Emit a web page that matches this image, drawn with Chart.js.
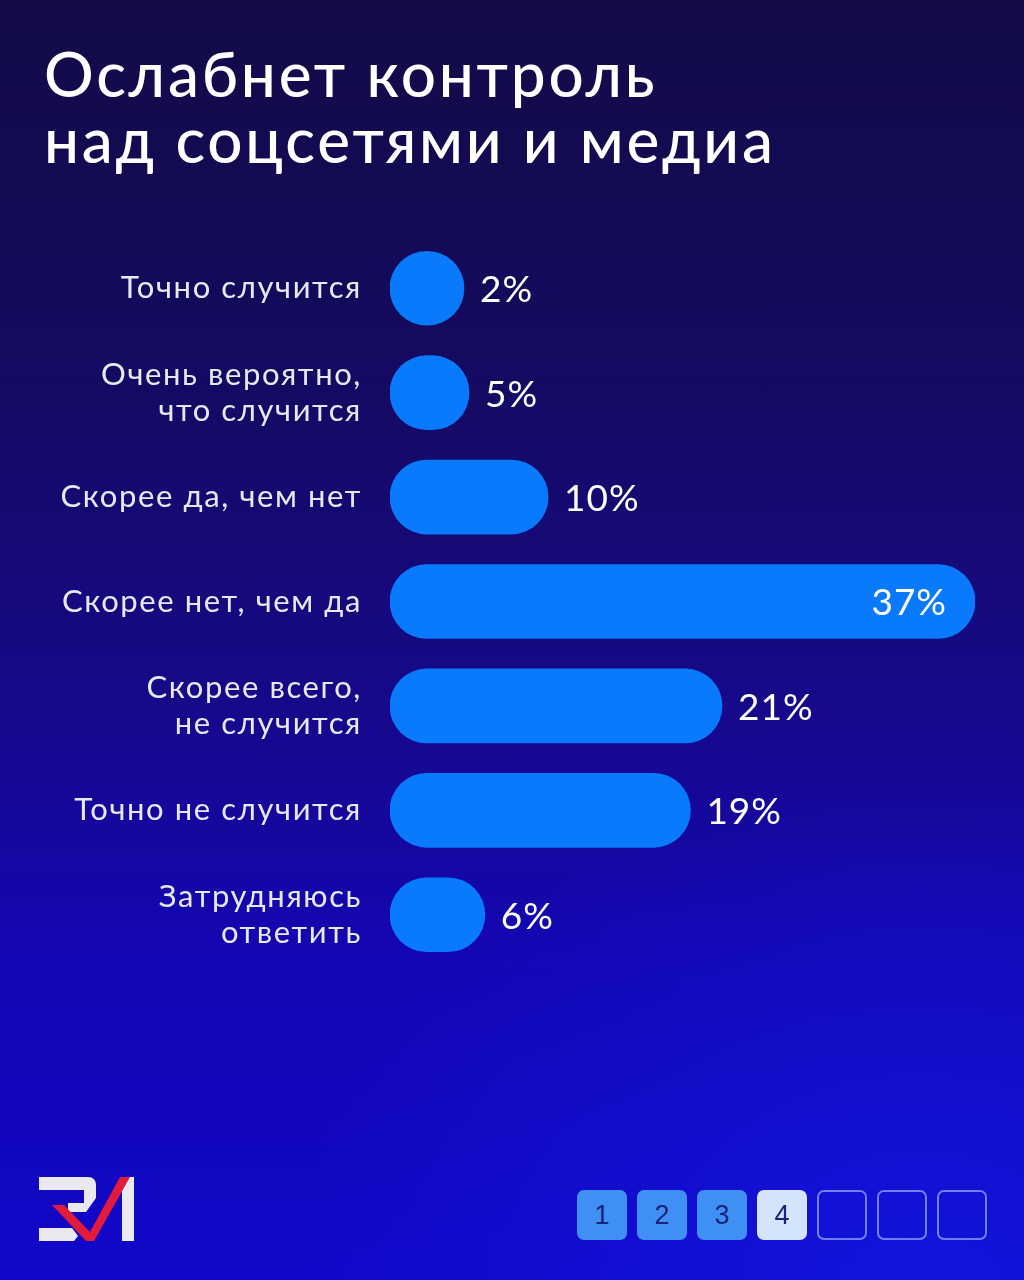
<!DOCTYPE html>
<html>
<head>
<meta charset="utf-8">
<script src="https://cdn.jsdelivr.net/npm/chart.js@4.4.1/dist/chart.umd.min.js"></script>
<style>
  html, body { margin: 0; padding: 0; }
  body {
    width: 1024px; height: 1280px; overflow: hidden; position: relative;
    background:
      radial-gradient(ellipse 900px 700px at 90% 100%, rgba(20,30,235,0.55), rgba(20,30,235,0) 70%),
      linear-gradient(180deg, #120b46 0%, #150a62 30%, #16098a 55%, #1306b4 75%, #1107c8 100%);
    font-family: Lato, "Noto Sans", sans-serif;
  }
  #wrap { position: absolute; left: 0; top: 0; width: 1024px; height: 1280px; }
  #title {
    position: absolute; left: 44px; top: 40px; color: #ffffff;
    font-family: Lato, sans-serif; font-size: 62px; line-height: 66px; font-weight: 500;
    letter-spacing: 2.8px;
  }
  .pg { position: absolute; top: 1190px; width: 50px; height: 50px; box-sizing: border-box;
        border-radius: 7px; font-family: "Liberation Sans", Arial, sans-serif; font-size: 27px;
        color: #17247a; display: flex; align-items: center; justify-content: center; }
  .pg.f { background: #3f8ff5; }
  .pg.c { background: #d4e5fb; }
  .pg.e { border: 2px solid #6f80f2; }
</style>
</head>
<body>
<div id="title">Ослабнет контроль<br>над соцсетями и медиа</div>
<div id="wrap"><canvas id="c" width="1024" height="1280"></canvas></div>
<svg style="position:absolute;left:38px;top:1176px" width="100" height="66" viewBox="0 0 100 66">
  <path d="M1 1 H50 C55 1 58 4 58 9 V22 L48 36 H30 V27 H46 V14 H1 Z" fill="#e9e9ef"/>
  <path d="M1 52 H34 L40 60 L36 65 H1 Z" fill="#e9e9ef"/>
  <path d="M84 1 H96 V65 H84 Z" fill="#e9e9ef"/>
  <path d="M14 29 L26 29 L52 56 L82 1 L92 1 L56 65 L48 65 Z" fill="#e21b3c"/>
</svg>
<div class="pg f" style="left:577px">1</div>
<div class="pg f" style="left:637px">2</div>
<div class="pg f" style="left:697px">3</div>
<div class="pg c" style="left:757px">4</div>
<div class="pg e" style="left:817px"></div>
<div class="pg e" style="left:877px"></div>
<div class="pg e" style="left:937px"></div>
<script>
const categories = [
  "Точно случится",
  ["Очень вероятно,", "что случится"],
  "Скорее да, чем нет",
  "Скорее нет, чем да",
  ["Скорее всего,", "не случится"],
  "Точно не случится",
  ["Затрудняюсь", "ответить"]
];
const values = [2, 5, 10, 37, 21, 19, 6];
const valueLabels = ["2%", "5%", "10%", "37%", "21%", "19%", "6%"];

const spacingPlugin = {
  id: 'spacing',
  beforeDraw(chart) { chart.ctx.letterSpacing = '1.6px'; },
  afterDraw(chart) { chart.ctx.letterSpacing = '0px'; }
};

const valueLabelPlugin = {
  id: 'valueLabels',
  afterDatasetsDraw(chart) {
    const ctx = chart.ctx;
    const meta = chart.getDatasetMeta(0);
    const maxV = Math.max(...values);
    ctx.save();
    ctx.letterSpacing = '1px';
    ctx.font = '400 37px Lato, sans-serif';
    ctx.fillStyle = '#ffffff';
    ctx.textBaseline = 'middle';
    meta.data.forEach((bar, i) => {
      const y = bar.y + 2;
      if (values[i] === maxV) {
        ctx.textAlign = 'right';
        ctx.fillText(valueLabels[i], bar.x - 28, y);
      } else {
        ctx.textAlign = 'left';
        ctx.fillText(valueLabels[i], bar.x + 16, y);
      }
    });
    ctx.restore();
  }
};

new Chart(document.getElementById('c'), {
  type: 'bar',
  data: {
    labels: categories,
    datasets: [{
      data: values,
      backgroundColor: '#0a7afc',
      borderRadius: 37,
      borderSkipped: false,
      barThickness: 74,
      minBarLength: 74
    }]
  },
  options: {
    indexAxis: 'y',
    responsive: false,
    animation: false,
    layout: { padding: { top: 236, bottom: 313, right: 49, left: 0 } },
    plugins: { legend: { display: false }, tooltip: { enabled: false } },
    scales: {
      x: { display: false, min: 0, max: 37 },
      y: {
        grid: { display: false, drawTicks: false },
        border: { display: false },
        ticks: {
          color: '#e8e8f2',
          font: { family: 'Lato, sans-serif', size: 31, lineHeight: 1.17 },
          padding: 28
        },
        afterFit(scale) { scale.width = 390; }
      }
    }
  },
  plugins: [spacingPlugin, valueLabelPlugin]
});
</script>
</body>
</html>
